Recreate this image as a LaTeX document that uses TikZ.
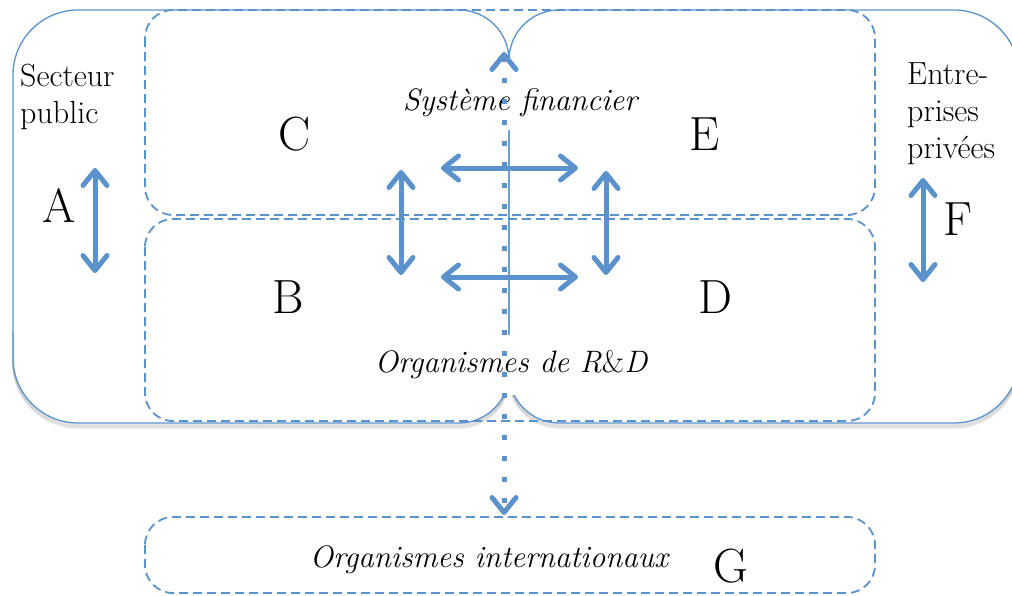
\documentclass[tikz,border=0pt]{standalone}
\usetikzlibrary{arrows.meta}
\definecolor{bl}{RGB}{91,146,204}
\begin{document}
\begin{tikzpicture}[x=1pt,y=-1pt,
  solidbox/.style={draw=bl, line width=1.3pt},
  shadowline/.style={draw=black, line width=2pt, opacity=0.06},
  dashbox/.style={draw=bl, line width=1.8pt, dash pattern=on 9pt off 5pt, rounded corners=28pt},
  tipb/.tip={Straight Barb[length=15pt,width=24pt,round]},
  dbl/.style={draw=bl, line width=5pt, tipb-tipb},
  dots/.style={draw=bl, line width=5pt, dash pattern=on 5pt off 16pt, tipb-tipb},
  lbl/.style={font=\fontsize{32}{37}\selectfont, inner sep=0pt},
  ilbl/.style={font=\itshape\fontsize{31}{36}\selectfont, inner sep=0pt},
  big/.style={font=\fontsize{48}{52}\selectfont, inner sep=0pt, anchor=base}]
\clip (0,0) rectangle (1012,595);
% soft shadows of the outer boxes
\foreach \d in {1,2,3,4,5}{
  \draw[shadowline, rounded corners=65pt, shift={(0,\d)}] (13,330) -- (13,423) -- (260,423);
  \draw[shadowline, rounded corners=50pt, shift={(0,\d)}] (260,423) -- (509,423) -- (509,380);
  \draw[shadowline, rounded corners=50pt, shift={(0,\d)}] (509,380) -- (509,423) -- (760,423);
  \draw[shadowline, rounded corners=65pt, shift={(0,\d)}] (760,423) -- (1019,423) -- (1019,330);
}
% outer solid boxes
\draw[solidbox, rounded corners=65pt] (260,10) -- (13,10) -- (13,423) -- (260,423);
\draw[solidbox, rounded corners=50pt] (260,10) -- (509,10) -- (509,423) -- (260,423);
\draw[solidbox, rounded corners=50pt] (760,10) -- (509,10) -- (509,423) -- (760,423);
\draw[solidbox, rounded corners=65pt] (760,10) -- (1019,10) -- (1019,423) -- (760,423);
% dashed boxes
\draw[dashbox] (145,10) rectangle (875,215);
\draw[dashbox] (145,219) rectangle (875,421);
\draw[dashbox] (145,517) rectangle (875,593);
\coordinate (gtop) at (504,515);
\coordinate (ftop) at (504,52);
% texts
\node[lbl, anchor=north west, align=left] (sp) at (20,64) {Secteur\\public};
\node[lbl, anchor=north west, align=left] (ep) at (907,63) {Entre-\\prises\\privées};
\node[ilbl, fill=white, text height=48pt, text depth=20pt, anchor=base, minimum width=250pt] (sf) at (520,110) {Système financier};
\node[ilbl, fill=white, text height=37pt, text depth=23pt, anchor=base, minimum width=270pt] (rd) at (511,372) {Organismes de R\textup{\&}D};
\node[ilbl, anchor=base] (oi) at (489,567) {Organismes internationaux};
\node[big] (A) at (59,222) {A};
\node[big] (B) at (288,313) {B};
\node[big] (C) at (295,150) {C};
\node[big] (D) at (715,313) {D};
\node[big] (E) at (705,150) {E};
\node[big] (F) at (958,235) {F};
\node[big] (G) at (731,582) {G};
% arrows
\draw[dbl] (95,168) -- (95,273);
\draw[dbl] (923,178) -- (923,282);
\draw[dbl] (401,170) -- (401,275);
\draw[dbl] (606,171) -- (606,275);
\draw[dbl] (441,168) -- (578,168);
\draw[dbl] (441,277) -- (578,277);
\draw[dots] (ftop) -- (gtop);
\end{tikzpicture}
\end{document}
